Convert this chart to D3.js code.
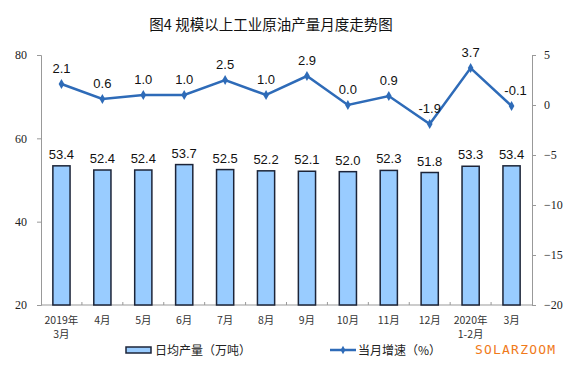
<!DOCTYPE html>
<html>
<head>
<meta charset="utf-8">
<script src="https://cdn.jsdelivr.net/npm/d3@7"></script>
<style>
  body { margin: 0; background: #fff; }
  svg { display: block; }
</style>
</head>
<body>
<div id="chart"></div>
<script>
// data
var months = ["2019年\n3月", "4月", "5月", "6月", "7月", "8月", "9月", "10月", "11月", "12月", "2020年\n1-2月", "3月"];
var output = [53.4, 52.4, 52.4, 53.7, 52.5, 52.2, 52.1, 52.0, 52.3, 51.8, 53.3, 53.4];
var growth = [2.1, 0.6, 1.0, 1.0, 2.5, 1.0, 2.9, 0.0, 0.9, -1.9, 3.7, -0.1];
var leftTicks = [20, 40, 60, 80];
var rightTicks = [5, 0, -5, -10, -15, -20];

var W = 576, H = 384;
// plot box (don't use "top" - that's window.top)
var pL = 41, pR = 532, pT = 55, pB = 305;

var svg = d3.select("#chart").append("svg")
    .attr("width", W)
    .attr("height", H);

var x = d3.scaleBand()
    .domain(months)
    .range([pL, pR])
    .paddingInner(0.58)
    .paddingOuter(0.29);

var y = d3.scaleLinear().domain([20, 80]).range([pB, pT]);
var y2 = d3.scaleLinear().domain([-20, 5]).range([pB, pT]);

// title
svg.append("text")
    .attr("x", 271).attr("y", 30)
    .attr("text-anchor", "middle")
    .style("font-family", "'Noto Sans CJK SC', sans-serif")
    .style("font-size", "14.5px")
    .style("fill", "#111")
    .text("图4  规模以上工业原油产量月度走势图");

// left axis
var yAxis = svg.append("g")
    .attr("transform", "translate(" + pL + ",0)")
    .call(d3.axisLeft(y).tickValues(leftTicks).tickSize(4).tickPadding(10));
yAxis.select(".domain").attr("stroke", "#999");
yAxis.selectAll(".tick line").attr("stroke", "#999");
yAxis.selectAll("text")
    .style("font-family", "'Liberation Serif', serif")
    .style("font-size", "12px")
    .style("fill", "#222");

// right axis
var y2Axis = svg.append("g")
    .attr("transform", "translate(" + pR + ",0)")
    .call(d3.axisRight(y2).tickValues(rightTicks).tickSize(4).tickPadding(8));
y2Axis.select(".domain").attr("stroke", "#999");
y2Axis.selectAll(".tick line").attr("stroke", "#999");
y2Axis.selectAll("text")
    .style("font-family", "'Liberation Serif', serif")
    .style("font-size", "12px")
    .style("fill", "#222");

// bottom axis line with small ticks between categories
svg.append("line")
    .attr("x1", pL).attr("x2", pR)
    .attr("y1", pB).attr("y2", pB)
    .attr("stroke", "#999");
svg.append("g").selectAll("line")
    .data(months.slice(1))
    .enter().append("line")
    .attr("x1", function(d) { return x(d) - x.step() * x.paddingInner() / 2; })
    .attr("x2", function(d) { return x(d) - x.step() * x.paddingInner() / 2; })
    .attr("y1", pB).attr("y2", pB - 3)
    .attr("stroke", "#999");

// x labels
var xl = svg.append("g").selectAll("text")
    .data(months)
    .enter().append("text")
    .attr("text-anchor", "middle")
    .attr("x", function(d) { return x(d) + x.bandwidth() / 2; })
    .attr("y", pB + 19)
    .style("font-family", "'Noto Sans CJK SC', sans-serif")
    .style("font-size", "10.5px")
    .style("fill", "#333");
xl.each(function(d) {
  var parts = d.split("\n");
  var t = d3.select(this);
  parts.forEach(function(p, i) {
    t.append("tspan")
      .attr("x", t.attr("x"))
      .attr("dy", i === 0 ? 0 : 14)
      .text(p);
  });
});

// bars
svg.append("g").selectAll("rect")
    .data(output)
    .enter().append("rect")
    .attr("x", function(d, i) { return x(months[i]); })
    .attr("y", function(d) { return y(d); })
    .attr("width", x.bandwidth())
    .attr("height", function(d) { return pB - y(d); })
    .attr("fill", "#99ccff")
    .attr("stroke", "#1c2438")
    .attr("stroke-width", 1.5);

svg.append("g").selectAll("text")
    .data(output)
    .enter().append("text")
    .attr("text-anchor", "middle")
    .attr("x", function(d, i) { return x(months[i]) + x.bandwidth() / 2; })
    .attr("y", function(d) { return y(d) - 7; })
    .style("font-family", "'Liberation Sans', Arial, sans-serif")
    .style("font-size", "13px")
    .style("fill", "#111")
    .text(function(d) { return d.toFixed(1); });

// growth line
var line = d3.line()
    .x(function(d, i) { return x(months[i]) + x.bandwidth() / 2; })
    .y(function(d) { return y2(d); });

svg.append("path")
    .datum(growth)
    .attr("d", line)
    .attr("fill", "none")
    .attr("stroke", "#2e6bb8")
    .attr("stroke-width", 2.5);

svg.append("g").selectAll("path")
    .data(growth)
    .enter().append("path")
    .attr("d", d3.symbol().type(d3.symbolDiamond).size(28))
    .attr("transform", function(d, i) {
      return "translate(" + (x(months[i]) + x.bandwidth() / 2) + "," + y2(d) + ")";
    })
    .attr("fill", "#2e6bb8");

svg.append("g").selectAll("text")
    .data(growth)
    .enter().append("text")
    .attr("text-anchor", "middle")
    .attr("x", function(d, i) { return x(months[i]) + x.bandwidth() / 2 + (i === 11 ? 4 : 0); })
    .attr("y", function(d) { return y2(d) - 11; })
    .style("font-family", "'Liberation Sans', Arial, sans-serif")
    .style("font-size", "13px")
    .style("fill", "#111")
    .text(function(d) { return d.toFixed(1); });

// legend
var lg = svg.append("g");
lg.append("rect")
    .attr("x", 126).attr("y", 347)
    .attr("width", 25).attr("height", 6)
    .attr("fill", "#99ccff")
    .attr("stroke", "#1c2438")
    .attr("stroke-width", 1.5);
lg.append("text")
    .attr("x", 155).attr("y", 355)
    .style("font-family", "'Noto Sans CJK SC', sans-serif")
    .style("font-size", "12px")
    .style("fill", "#222")
    .text("日均产量（万吨）");

lg.append("line")
    .attr("x1", 330).attr("x2", 356)
    .attr("y1", 350).attr("y2", 350)
    .attr("stroke", "#2e6bb8")
    .attr("stroke-width", 2.5);
lg.append("path")
    .attr("d", d3.symbol().type(d3.symbolDiamond).size(20))
    .attr("transform", "translate(343,350)")
    .attr("fill", "#2e6bb8");
lg.append("text")
    .attr("x", 358).attr("y", 355)
    .style("font-family", "'Noto Sans CJK SC', sans-serif")
    .style("font-size", "12px")
    .style("fill", "#222")
    .text("当月增速（%）");

// watermark
svg.append("text")
    .attr("x", 475).attr("y", 354)
    .style("font-family", "'DejaVu Sans Mono', monospace")
    .style("font-size", "13px")
    .style("letter-spacing", "1.2px")
    .style("fill", "#f07a1a")
    .text("SOLARZOOM");
</script>
</body>
</html>
